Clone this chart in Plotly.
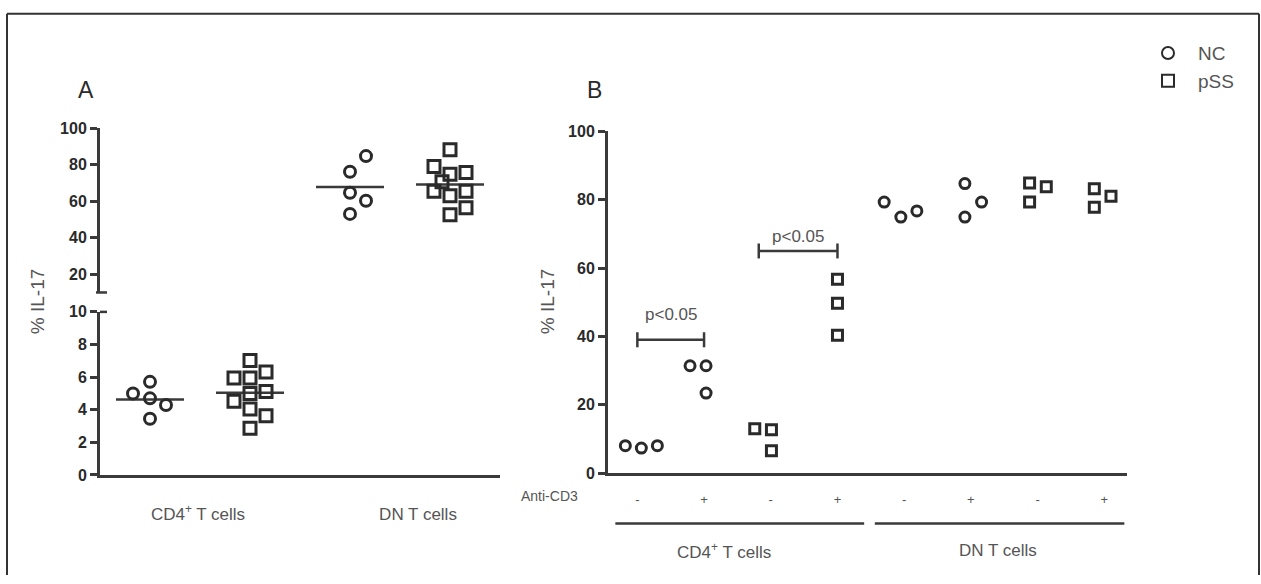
import plotly.graph_objects as go

# ---------------- data ----------------
# Panel A
A_categories = ["CD4<sup>+</sup> T cells", "DN T cells"]
A_cd4_nc = [5.0, 5.71, 4.70, 4.29, 3.45]
A_cd4_pss = [7.02, 5.95, 5.95, 6.31, 5.0, 5.12, 4.52, 4.05, 3.63, 2.86]
A_dn_nc = [84.8, 76.2, 64.7, 60.3, 53.1]
A_dn_pss = [88.3, 79.1, 74.9, 75.8, 70.8, 65.5, 63.0, 65.5, 56.5, 52.6]
# horizontal scatter of the column points (column-width units)
A_cd4_nc_jit = [-0.17, 0, 0, 0.16, 0]
A_cd4_pss_jit = [0, -0.16, 0, 0.16, 0, 0.16, -0.16, 0, 0.16, 0]
A_dn_nc_jit = [0.16, 0, 0, 0.16, 0]
A_dn_pss_jit = [0, -0.16, 0, 0.16, -0.08, -0.16, 0, 0.16, 0.16, 0]

# Panel B
B_anti_cd3 = ["-", "+", "-", "+", "-", "+", "-", "+"]
B_donor = ["NC", "NC", "pSS", "pSS", "NC", "NC", "pSS", "pSS"]
B_cells = ["CD4<sup>+</sup> T cells", "DN T cells"]
B_values = [[8.0, 7.3, 8.0], [31.4, 31.4, 23.4], [13.0, 12.7, 6.5], [56.7, 49.7, 40.3],
            [79.3, 74.9, 76.7], [84.7, 79.3, 74.9], [84.9, 83.8, 79.3], [83.2, 81.0, 77.8]]
B_jitter = [[-0.18, 0.06, 0.30], [-0.21, 0.03, 0.03], [-0.24, 0.01, 0.01], [0, 0, 0],
            [-0.30, -0.05, 0.19], [-0.09, 0.16, -0.09], [-0.12, 0.13, -0.12], [-0.15, 0.10, -0.15]]
B_bracket_from = [0.0, 1.82]
B_bracket_to = [1.0, 3.0]
B_bracket_y = [39.0, 65.0]
B_bracket_label = ["p<0.05", "p<0.05"]
B_bracket_label_y = [46.3, 69.3]

y_title = "% IL-17"

# ---------------- styling helpers ----------------
W, H = 1261, 584
def fx(px):
    return px / W
def fy(py):
    return 1 - py / H

DARK = "#2a2a2a"
AX = "#3a3a3a"
TXT = "#555555"
FONT = "Arial, Liberation Sans, sans-serif"

fig = go.Figure()

def mk(symbol, size, lw):
    return dict(symbol=symbol, size=size, color=DARK, line=dict(width=lw, color=DARK))

# ----- Panel A points -----
A_sets = [
    (0.5, A_cd4_nc, A_cd4_nc_jit, "NC", "y"),
    (1.5, A_cd4_pss, A_cd4_pss_jit, "pSS", "y"),
    (2.5, A_dn_nc, A_dn_nc_jit, "NC", "y2"),
    (3.5, A_dn_pss, A_dn_pss_jit, "pSS", "y2"),
]
shown = set()
for center, vals, jit, donor, yax in A_sets:
    sym = "circle-open" if donor == "NC" else "square-open"
    m = sum(vals) / len(vals)
    fig.add_trace(go.Scatter(x=[center - 0.34, center + 0.34], y=[m, m], mode="lines",
                             line=dict(color=AX, width=2.5), xaxis="x", yaxis=yax,
                             showlegend=False, hoverinfo="skip"))
    fig.add_trace(go.Scatter(x=[center + j for j in jit], y=vals, mode="markers",
                             marker=mk(sym, 11 if donor == "NC" else 12, 3),
                             xaxis="x", yaxis=yax, showlegend=False, name=donor))

# ----- Panel B points -----
for i, (vals, jit) in enumerate(zip(B_values, B_jitter)):
    donor = B_donor[i]
    sym = "circle-open" if donor == "NC" else "square-open"
    fig.add_trace(go.Scatter(x=[i + j for j in jit], y=vals, mode="markers",
                             marker=mk(sym, 10, 3), xaxis="x3", yaxis="y3",
                             name=donor, legendgroup=donor,
                             showlegend=donor not in shown))
    shown.add(donor)

# significance brackets
bx, by = [], []
for x0, x1, yb in zip(B_bracket_from, B_bracket_to, B_bracket_y):
    bx += [x0, x1, None, x0, x0, None, x1, x1, None]
    by += [yb, yb, None, yb - 2.2, yb + 2.2, None, yb - 2.2, yb + 2.2, None]
fig.add_trace(go.Scatter(x=bx, y=by, mode="lines", line=dict(color=AX, width=2.5),
                         xaxis="x3", yaxis="y3", showlegend=False, hoverinfo="skip"))

def ann(x, y, text, size, color=TXT, xref="paper", yref="paper", angle=0):
    return dict(x=x, y=y, xref=xref, yref=yref, text=text, textangle=angle,
                xanchor="center", yanchor="middle", showarrow=False,
                font=dict(size=size, color=color, family=FONT))

annotations = []
for x0, x1, ly, lab in zip(B_bracket_from, B_bracket_to, B_bracket_label_y, B_bracket_label):
    annotations.append(ann((x0 + x1) / 2, ly, lab, 17, xref="x3", yref="y3"))

annotations += [
    ann(fx(37), fy(303), y_title, 19, angle=-90),
    ann(fx(547), fy(303), y_title, 19, angle=-90),
    ann(fx(86), fy(84), "A", 23, color=DARK),
    ann(fx(594), fy(84), "B", 23, color=DARK),
    ann(fx(549), fy(503), "Anti-CD3", 14),
    ann(1.3, fy(559), B_cells[0], 17, xref="x3"),
    ann(5.4, fy(559), B_cells[1], 17, xref="x3"),
]

shapes = [
    dict(type="line", xref="paper", yref="paper", x0=fx(7), x1=fx(7), y0=0, y1=fy(6),
         line=dict(color="#333", width=2)),
    dict(type="line", xref="paper", yref="paper", x0=fx(7), x1=fx(1259), y0=fy(6), y1=fy(6),
         line=dict(color="#333", width=2)),
    dict(type="line", xref="paper", yref="paper", x0=fx(1259), x1=fx(1259), y0=0, y1=fy(6),
         line=dict(color="#333", width=2)),
    dict(type="line", xref="paper", yref="paper", x0=fx(96), x1=fx(107), y0=fy(293), y1=fy(293),
         line=dict(color=AX, width=2.5)),
    dict(type="line", xref="paper", yref="paper", x0=fx(100), x1=fx(107), y0=fy(313), y1=fy(313),
         line=dict(color=AX, width=2.5)),
    dict(type="line", xref="x3", yref="paper", x0=-0.33, x1=3.40, y0=fy(531), y1=fy(531),
         line=dict(color=AX, width=2.5)),
    dict(type="line", xref="x3", yref="paper", x0=3.56, x1=7.30, y0=fy(531), y1=fy(531),
         line=dict(color=AX, width=2.5)),
]

yax_common = dict(showline=True, linewidth=3, linecolor=AX, ticks="outside", ticklen=7,
                  tickwidth=2.5, tickcolor=AX, showgrid=False, zeroline=False,
                  tickfont=dict(size=16, color="#2a2a2a", family=FONT, weight="bold"))

fig.update_layout(
    width=W, height=H, margin=dict(l=0, r=0, t=0, b=0),
    paper_bgcolor="white", plot_bgcolor="white",
    font=dict(family=FONT),
    xaxis=dict(domain=[fx(100), fx(500)], range=[0, 4], anchor="y", showline=True,
               linewidth=3, linecolor=AX, showgrid=False, zeroline=False, ticks="",
               tickvals=[0.98, 3.18], ticktext=A_categories, ticklabelstandoff=22,
               tickfont=dict(size=17, color=TXT, family=FONT)),
    yaxis=dict(domain=[fy(481), fy(313)], range=[0, 10], anchor="x",
               tickvals=[0, 2, 4, 6, 8, 10], **yax_common),
    yaxis2=dict(domain=[fy(293), fy(124)], range=[10, 100], anchor="x",
                tickvals=[20, 40, 60, 80, 100], **yax_common),
    xaxis3=dict(domain=[fx(608), fx(1127)], range=[-0.44, 7.34], anchor="y3", showline=True,
                linewidth=3, linecolor=AX, showgrid=False, zeroline=False, ticks="",
                tickvals=list(range(len(B_anti_cd3))), ticktext=B_anti_cd3,
                ticklabelstandoff=12, tickfont=dict(size=13, color=TXT, family=FONT)),
    yaxis3=dict(domain=[fy(479), fy(127)], range=[0, 100], anchor="x3",
                tickvals=[0, 20, 40, 60, 80, 100], **yax_common),
    legend=dict(x=fx(1138), y=fy(27), xanchor="left", yanchor="top", tracegroupgap=0,
                itemwidth=50,
                font=dict(size=19, color=TXT, family=FONT), itemsizing="constant",
                bgcolor="rgba(0,0,0,0)"),
    annotations=annotations,
    shapes=shapes,
)

post = ("document.documentElement.style.margin='0';document.body.style.margin='0';"
        "document.body.style.padding='0';document.documentElement.style.overflow='hidden';"
        "document.body.style.overflow='hidden';")
fig.write_html("out.html", post_script=post, config={"displayModeBar": False})
